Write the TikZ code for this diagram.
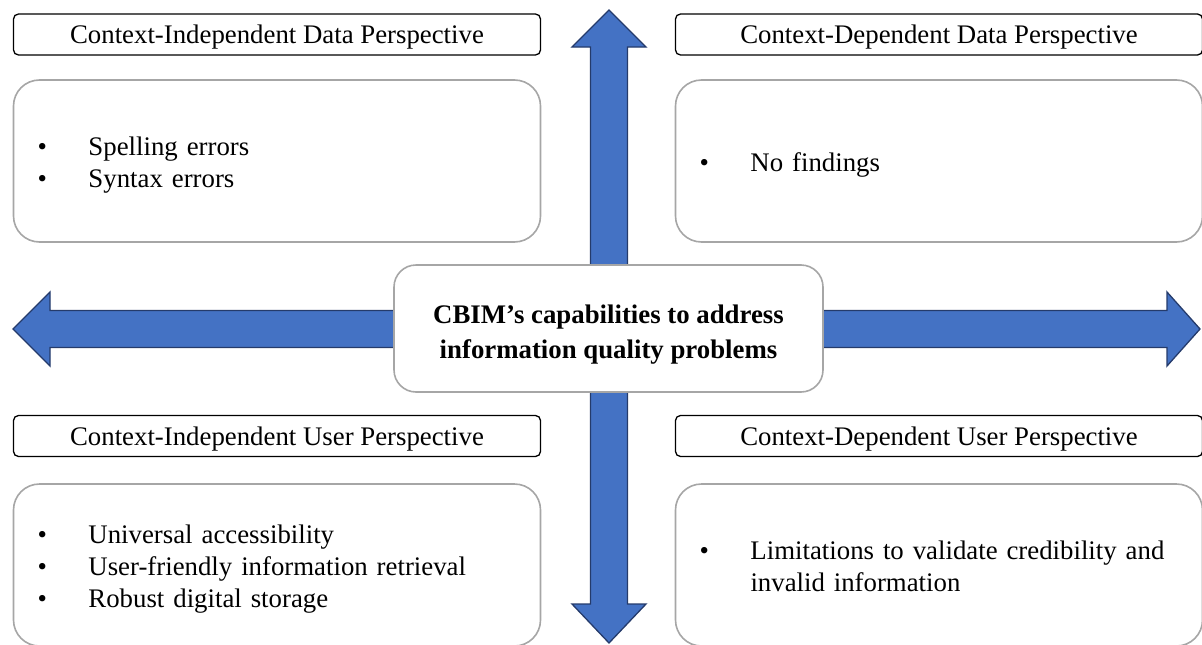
\documentclass[tikz,border=0pt]{standalone}
\usepackage{fontspec}
\setmainfont{Liberation Serif}
\definecolor{arrowfill}{RGB}{68,114,196}
\definecolor{arrowline}{RGB}{37,59,107}
\definecolor{boxline}{RGB}{166,166,166}
\newcommand{\boxfont}{\fontsize{26.8}{32}\selectfont}
% move text down without changing the box size
\newcommand{\dropby}[2]{\raisebox{-#1}[\height][\depth]{#2}}
\begin{document}
\begin{tikzpicture}[x=1pt, y=-1pt,
        bigarrow/.style={fill=arrowfill, draw=arrowline, line width=1.3pt, line join=miter},
        headbox/.style={draw=black, line width=1.3pt, rounded corners=5pt, fill=white, minimum width=527pt, minimum height=41pt, inner sep=0pt, font=\boxfont},
        bodybox/.style={draw=boxline, line width=1.6pt, rounded corners=26pt, fill=white, minimum height=162pt, text width=479pt, inner xsep=24pt, inner ysep=0pt, align=left, font=\boxfont},
        hubbox/.style={draw=boxline, line width=1.6pt, rounded corners=22pt, fill=white, minimum width=429pt, minimum height=127pt, align=center, font=\bfseries\fontsize{26.8}{35}\selectfont}]
    \useasboundingbox (0,0) rectangle (1202,645);
    % arrows behind the boxes
    \draw[bigarrow] (609,10) -- (646,47) -- (627.5,47) -- (627.5,604) -- (646,604) -- (609,643)
        -- (572,604) -- (590.5,604) -- (590.5,47) -- (572,47) -- cycle;
    \draw[bigarrow] (13,329) -- (50,292) -- (50,310.5) -- (1167,310.5) -- (1167,292) -- (1200,329)
        -- (1167,366) -- (1167,347.5) -- (50,347.5) -- (50,366) -- cycle;
    % quadrants
    \node[headbox] (cidtitle) at (277,34.5) {\dropby{3pt}{Context-Independent Data Perspective}};
    \node[bodybox] (cidbody) at (277,161) {\dropby{4pt}{\begin{tabular}{@{}p{51pt}@{}l@{}}
        \textbullet & Spelling errors\\
        \textbullet & Syntax errors
    \end{tabular}}};
    \node[headbox] (cddtitle) at (939,34.5) {\dropby{3pt}{Context-Dependent Data Perspective}};
    \node[bodybox] (cddbody) at (939,161) {\dropby{4pt}{\begin{tabular}{@{}p{51pt}@{}l@{}}
        \textbullet & No findings
    \end{tabular}}};
    \node[headbox] (ciutitle) at (277,436) {\dropby{3pt}{Context-Independent User Perspective}};
    \node[bodybox] (ciubody) at (277,565) {\dropby{4pt}{\begin{tabular}{@{}p{51pt}@{}l@{}}
        \textbullet & Universal accessibility\\
        \textbullet & User-friendly information retrieval\\
        \textbullet & Robust digital storage
    \end{tabular}}};
    \node[headbox] (cdutitle) at (939,436) {\dropby{3pt}{Context-Dependent User Perspective}};
    \node[bodybox] (cdubody) at (939,565) {\dropby{4pt}{\begin{tabular}{@{}p{51pt}@{}l@{}}
        \textbullet & Limitations to validate credibility and\\
        & invalid information
    \end{tabular}}};
    % centre
    \node[hubbox] (hub) at (608.5,328.5) {\dropby{5pt}{\begin{tabular}{@{}c@{}}
        CBIM’s capabilities to address\\information quality problems
    \end{tabular}}};
\end{tikzpicture}
\end{document}
